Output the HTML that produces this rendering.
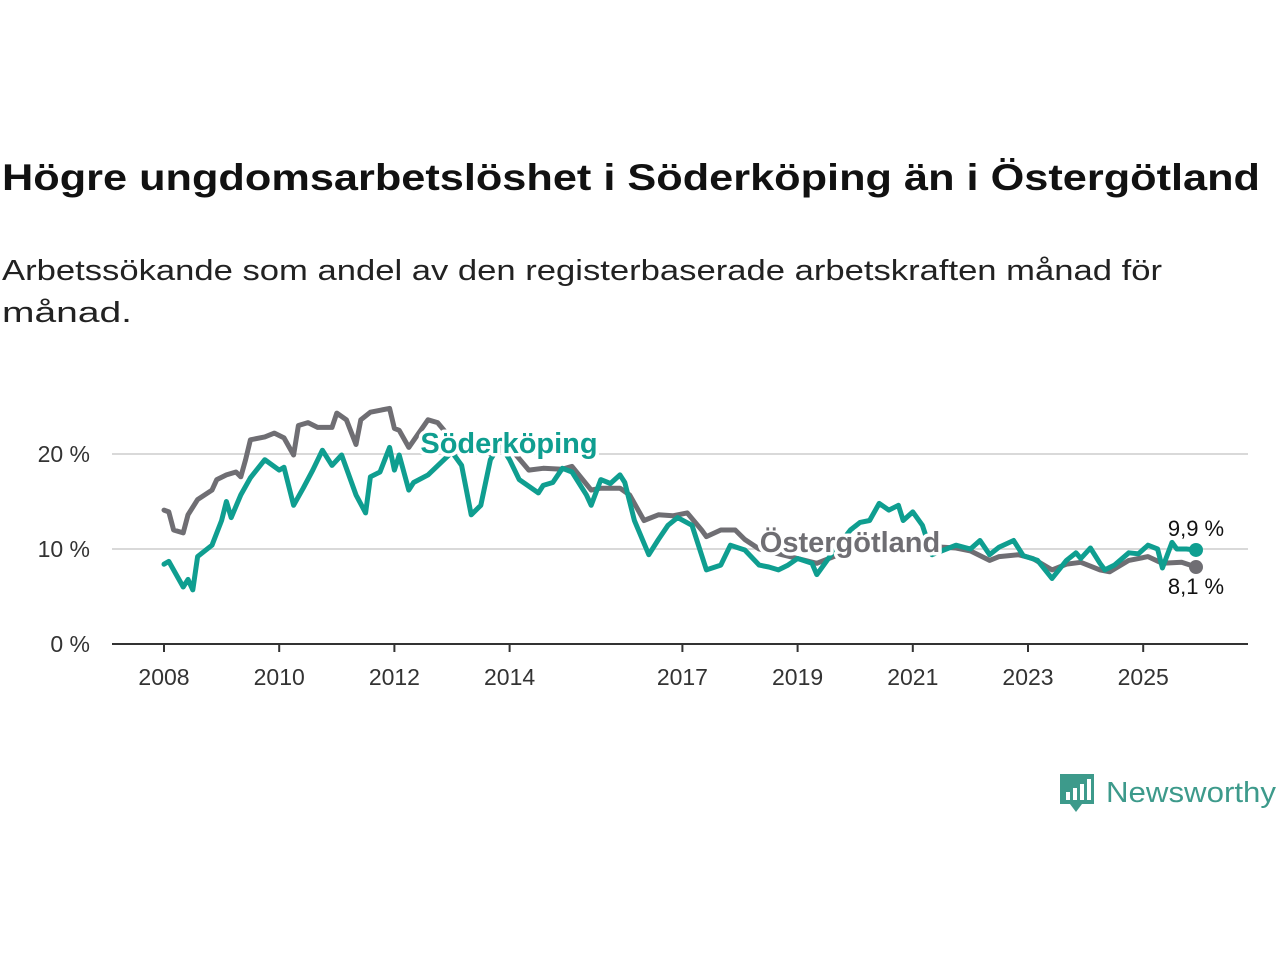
<!DOCTYPE html>
<html><head><meta charset="utf-8"><style>
html,body{margin:0;padding:0;background:#fff}
svg{display:block}
text{font-family:"Liberation Sans","DejaVu Sans",sans-serif}
</style></head><body>
<svg id="chart" width="1280" height="960" viewBox="0 0 1280 960" xmlns="http://www.w3.org/2000/svg">
<text x="2" y="190" font-size="37" font-weight="bold" fill="#111" textLength="1258" lengthAdjust="spacingAndGlyphs">Högre ungdomsarbetslöshet i Söderköping än i Östergötland</text>
<text x="2" y="280" font-size="29" fill="#222" textLength="1160" lengthAdjust="spacingAndGlyphs">Arbetssökande som andel av den registerbaserade arbetskraften månad för</text>
<text x="2" y="322" font-size="29" fill="#222" textLength="130" lengthAdjust="spacingAndGlyphs">månad.</text>
<g id="grid"></g>
<g id="axes"></g>
<g id="series"></g>
<g id="labels"></g>
<g transform="translate(1060,774)">
<path d="M0 0h34v30h-12l-6 8l-6-8h-10z" fill="#3d9a8b"/>
<rect x="6" y="18" width="4" height="8" fill="#fff"/><rect x="13" y="14" width="4" height="12" fill="#fff"/><rect x="20" y="10" width="4" height="16" fill="#fff"/><rect x="27" y="5" width="4" height="21" fill="#fff"/>
<text x="46" y="28" font-size="29" fill="#3d9a8b" textLength="170" lengthAdjust="spacingAndGlyphs">Newsworthy</text>
</g>
</svg>
<script>
// months since 2008-01
const greyMonths=[0,1,2,4,5,7,10,11,13,15,16,17,18,21,23,25,27,28,30,32,35,36,38,40,41,43,45,47,48,49,51,55,57,60,64,68,72,76,79,83,85,89,91,95,97,100,103,106,109,112,113,116,119,121,124,128,132,136,141,145,149,153,158,162,165,168,172,174,178,181,185,188,191,195,197,201,205,208,212,215];
const greyValues=[14.1,13.9,12.0,11.7,13.6,15.2,16.2,17.3,17.8,18.1,17.6,19.4,21.5,21.8,22.2,21.7,19.9,23.0,23.3,22.8,22.8,24.3,23.6,21.0,23.6,24.4,24.6,24.8,22.7,22.5,20.7,23.6,23.3,21.5,20.5,20.0,20.7,18.3,18.5,18.4,18.7,16.2,16.4,16.4,15.7,13.0,13.6,13.5,13.8,12.0,11.3,12.0,12.0,11.0,10.0,9.5,9.0,8.5,9.5,10.5,11.0,11.0,11.0,10.2,10.1,9.8,8.8,9.2,9.4,9.0,7.8,8.4,8.6,7.8,7.6,8.8,9.2,8.5,8.6,8.1];
const tealMonths=[0,1,4,5,6,7,10,12,13,14,16,18,21,24,25,27,29,31,33,35,37,40,42,43,45,47,48,49,51,52,55,60,62,64,66,68,70,72,74,78,79,81,83,85,88,89,91,93,95,96,98,101,103,105,107,110,113,116,118,121,124,126,128,130,132,135,136,139,143,145,147,149,151,153,154,156,158,160,163,165,168,170,172,174,177,179,182,185,188,190,191,193,195,196,198,201,203,205,207,208,210,211,213,215];
const tealValues=[8.4,8.7,6.0,6.8,5.7,9.2,10.4,13.0,15.0,13.3,15.7,17.5,19.4,18.3,18.6,14.6,16.4,18.3,20.4,18.8,19.9,15.7,13.8,17.6,18.1,20.7,18.3,19.9,16.2,17.0,17.8,20.2,18.8,13.6,14.6,19.4,21.0,19.4,17.3,15.9,16.7,17.0,18.5,18.1,15.7,14.6,17.3,16.9,17.8,17.0,13.0,9.4,11.0,12.5,13.3,12.5,7.8,8.3,10.4,9.9,8.3,8.1,7.8,8.3,9.0,8.5,7.3,9.4,12.0,12.8,13.0,14.8,14.1,14.6,13.0,13.9,12.5,9.4,10.0,10.4,10.0,10.9,9.4,10.2,10.9,9.3,8.8,6.9,8.8,9.6,9.0,10.1,8.5,7.8,8.3,9.6,9.5,10.4,10.0,8.0,10.7,10.0,10.0,9.9];
const yTicks=[0,10,20];
const yTickLabels=["0 %","10 %","20 %"];
const xTickYears=[2008,2010,2012,2014,2017,2019,2021,2023,2025];
const endLabels=["9,9 %","8,1 %"];

const NS="http://www.w3.org/2000/svg";
const xScale=m=>164+m*4.8;
const yearX=y=>xScale((y-2008)*12);
const yScale=v=>644-v*9.5;
function mk(tag,attrs,parent){const e=document.createElementNS(NS,tag);for(const k in attrs)e.setAttribute(k,attrs[k]);parent.appendChild(e);return e;}
const grid=document.getElementById('grid'),axes=document.getElementById('axes'),series=document.getElementById('series'),labels=document.getElementById('labels');
yTicks.forEach((t,i)=>{
  if(t>0){const g=mk('line',{x1:112,x2:1248,y1:yScale(t),y2:yScale(t),stroke:'#d9d9d9','stroke-width':2},grid);
  
  }
  const tx=mk('text',{x:90,y:yScale(t)+8,'font-size':23,fill:'#333','text-anchor':'end'},axes);
  
  
  tx.textContent=yTickLabels[i];
});
const ax=mk('line',{x1:112,x2:1248,y1:644,y2:644,stroke:'#333','stroke-width':2},axes);


xTickYears.forEach(y=>{
  const x=yearX(y);
  const tk=mk('line',{x1:x,x2:x,y1:644,y2:652,stroke:'#333','stroke-width':2},axes);
  
  
  const tx=mk('text',{x:x,y:685,'font-size':23,fill:'#333','text-anchor':'middle'},axes);
  
  
  tx.textContent=y;
});
function line(ms,vs,color,name){
  const d=ms.map((m,i)=>(i?'L':'M')+xScale(m).toFixed(1)+' '+yScale(vs[i]).toFixed(1)).join(' ');
  const p=mk('path',{d:d,fill:'none',stroke:color,'stroke-width':5,'stroke-linejoin':'round','stroke-linecap':'round'},series);
  
  
  const n=ms.length-1;
  const c=mk('circle',{cx:xScale(ms[n]),cy:yScale(vs[n]),r:7,fill:color},series);
  
  
}
line(greyMonths,greyValues,'#6f6e73','ostergotland-line');
line(tealMonths,tealValues,'#0f9e90','soderkoping-line');
function lab(txt,x,y,color,bold,name,halo){
  const t=mk('text',{x:x,y:y,'font-size':bold?29:22,'font-weight':bold?'bold':'normal',fill:color,'text-anchor':'middle'},labels);
  if(halo){t.setAttribute('stroke','#fff');t.setAttribute('stroke-width',7);t.setAttribute('paint-order','stroke');t.setAttribute('stroke-linejoin','round');}
  
  
  t.textContent=txt;
}
lab('Söderköping',509,453,'#0f9e90',true,'soderkoping-label',true);
lab('Östergötland',850,552,'#6f6e73',true,'ostergotland-label',true);
lab(endLabels[0],1196,536,'#111',false,'soderkoping-end-value',false);
lab(endLabels[1],1196,594,'#111',false,'ostergotland-end-value',false);
</script>
</body></html>
